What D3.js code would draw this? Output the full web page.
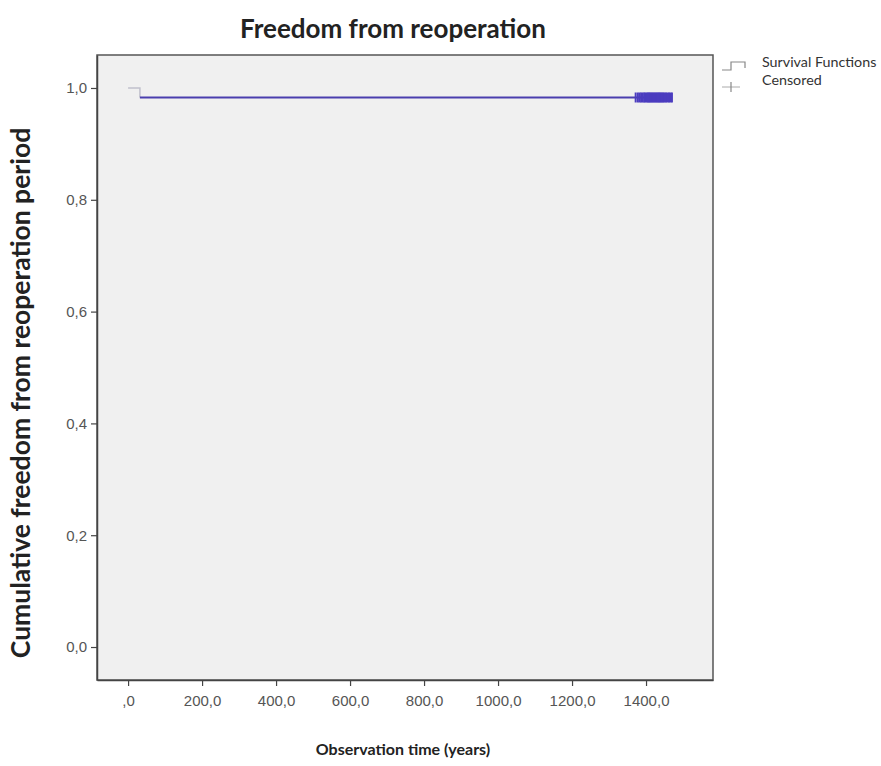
<!DOCTYPE html>
<html><head><meta charset="utf-8">
<script src="https://cdn.jsdelivr.net/npm/d3@7"></script>
<style>body{margin:0;background:#fff;}svg{display:block;}</style>
</head><body>
<svg id="c" width="881" height="766"></svg>
<script>
// Data
const survivalSteps = [ {t: 0, s: 1.0}, {t: 32, s: 0.983} ];
const endTime = 1470;
const censoredTimes = [1372,1378,1383,1387,1391,1395,1398,1402,1405,1408,1411,1414,1417,1420,1423,1426,1429,1432,1435,1438,1441,1444,1447,1450,1454,1458,1462,1466,1470];
const xTicks = [0,200,400,600,800,1000,1200,1400];
const xTickLabels = [",0","200,0","400,0","600,0","800,0","1000,0","1200,0","1400,0"];
const yTicks = [0,0.2,0.4,0.6,0.8,1.0];
const yTickLabels = ["0,0","0,2","0,4","0,6","0,8","1,0"];

const svg = d3.select("#c");
const L = 97, T = 55, R = 713, B = 680;
const x = d3.scaleLinear().domain([-84, 1581]).range([L, R]);
const y = d3.scaleLinear().domain([-0.059, 1.059]).range([B, T]);

svg.append("rect").attr("x", L).attr("y", T).attr("width", R-L).attr("height", B-T)
  .attr("fill", "#f0f0f0").attr("stroke", "#555").attr("stroke-width", 1.5);

// Axes
const yAxis = d3.axisLeft(y).tickValues(yTicks).tickSizeInner(6).tickSizeOuter(0).tickFormat((d,i)=>yTickLabels[i]);
const gy = svg.append("g").attr("transform", `translate(${L},0)`).call(yAxis);
const xAxis = d3.axisBottom(x).tickValues(xTicks).tickSizeInner(6).tickSizeOuter(0).tickFormat((d,i)=>xTickLabels[i]);
const gx = svg.append("g").attr("transform", `translate(0,${B})`).call(xAxis);
[gy, gx].forEach(g => {
  g.select(".domain").attr("stroke", "#444").attr("stroke-width", 1.5);
  g.selectAll(".tick line").attr("stroke", "#444").attr("stroke-width", 1.2);
  g.selectAll(".tick text").attr("fill", "#555").attr("font-family", "'Liberation Sans', Arial, sans-serif").attr("font-size", 15);
});
gx.selectAll(".tick text").attr("dy", "1.15em");
gy.selectAll(".tick text").attr("dx", "-1px");

// Survival step line
const pts = [];
survivalSteps.forEach((p, i) => {
  if (i > 0) pts.push([p.t, survivalSteps[i-1].s]);
  pts.push([p.t, p.s]);
});
pts.push([endTime, survivalSteps[survivalSteps.length-1].s]);
const line = d3.line().x(d => x(d[0])).y(d => y(d[1]));
svg.append("path").datum(pts.slice(0,3)).attr("d", line).attr("fill","none")
  .attr("stroke", "#c0c0cc").attr("stroke-width", 1.5);
svg.append("path").datum(pts.slice(2)).attr("d", line).attr("fill","none")
  .attr("stroke", "#4a3fae").attr("stroke-width", 2);

// Censored marks
const sEnd = survivalSteps[survivalSteps.length-1].s;
svg.append("g").selectAll("line").data(censoredTimes).join("line")
  .attr("x1", d => x(d)).attr("x2", d => x(d))
  .attr("y1", y(sEnd) - 5).attr("y2", y(sEnd) + 5)
  .attr("stroke", "#4b3cbf").attr("stroke-width", 2);

// Title
svg.append("text").attr("x", 393).attr("y", 38).attr("text-anchor", "middle")
  .attr("font-family", "Lato, 'Open Sans', sans-serif").attr("font-weight", "bold")
  .attr("font-size", 26).attr("fill", "#222").text("Freedom from reoperation");
// Axis titles
svg.append("text").attr("x", 403).attr("y", 755).attr("text-anchor", "middle")
  .attr("font-family", "Lato, 'Open Sans', sans-serif").attr("font-weight", "bold")
  .attr("font-size", 16).attr("fill", "#222").text("Observation time (years)");
svg.append("text").attr("transform", "translate(30,393) rotate(-90)").attr("text-anchor", "middle")
  .attr("font-family", "Lato, 'Open Sans', sans-serif").attr("font-weight", "bold")
  .attr("font-size", 26.5).attr("fill", "#222").text("Cumulative freedom from reoperation period");

// Legend
const lg = svg.append("g");
lg.append("path").attr("d", "M722,70 H731 V62 H745 V68").attr("fill","none").attr("stroke","#888").attr("stroke-width",1.2);
lg.append("line").attr("x1",722).attr("x2",740).attr("y1",87).attr("y2",87).attr("stroke","#aaa").attr("stroke-width",1);
lg.append("line").attr("x1",731).attr("x2",731).attr("y1",82).attr("y2",92).attr("stroke","#888").attr("stroke-width",1.2);
lg.append("text").attr("x", 762).attr("y", 67).attr("font-family","Lato, 'Open Sans', sans-serif")
  .attr("font-size", 14.3).attr("fill","#333").text("Survival Functions");
lg.append("text").attr("x", 762).attr("y", 85).attr("font-family","Lato, 'Open Sans', sans-serif")
  .attr("font-size", 14.3).attr("fill","#333").text("Censored");
</script>
</body></html>
